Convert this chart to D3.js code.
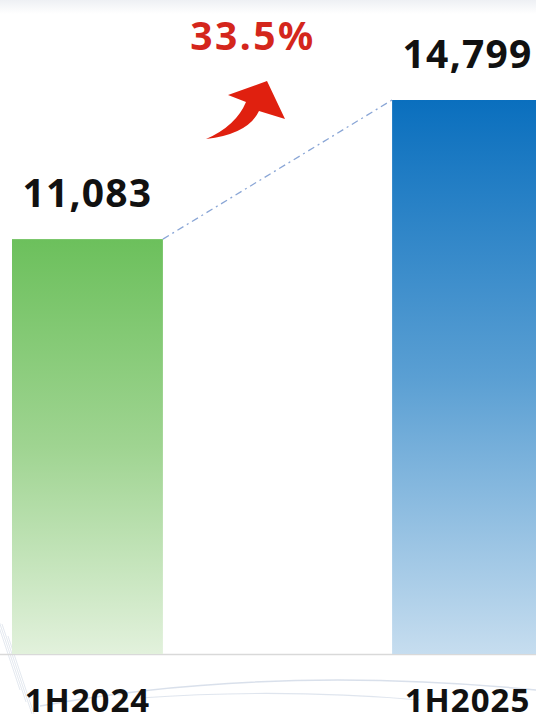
<!DOCTYPE html>
<html>
<head>
<meta charset="utf-8">
<script src="https://cdn.jsdelivr.net/npm/d3@7"></script>
<style>
  html, body { margin: 0; padding: 0; background: #fff; overflow: hidden; }
  svg { display: block; font-family: "Noto Sans", "Open Sans", sans-serif; }
</style>
</head>
<body>
<div id="chart"></div>
<script>
// data
const categories = ['1H2024', '1H2025'];
const values = [11083, 14799];
const growthLabel = '33.5%';

const W = 536;
const H = 714;
const baseY = 654;

const svg = d3.select('#chart').append('svg')
  .attr('width', W)
  .attr('height', H);

const defs = svg.append('defs');

const gradGreen = defs.append('linearGradient')
  .attr('id', 'g-green').attr('x1', 0).attr('y1', 0).attr('x2', 0).attr('y2', 1);
gradGreen.append('stop').attr('offset', '0%').attr('stop-color', '#6cc05c');
gradGreen.append('stop').attr('offset', '50%').attr('stop-color', '#9fd491');
gradGreen.append('stop').attr('offset', '100%').attr('stop-color', '#e2f1dc');

const gradBlue = defs.append('linearGradient')
  .attr('id', 'g-blue').attr('x1', 0).attr('y1', 0).attr('x2', 0).attr('y2', 1);
gradBlue.append('stop').attr('offset', '0%').attr('stop-color', '#0a6fbe');
gradBlue.append('stop').attr('offset', '50%').attr('stop-color', '#5a9fd3');
gradBlue.append('stop').attr('offset', '100%').attr('stop-color', '#c6ddef');

const gradTop = defs.append('linearGradient')
  .attr('id', 'g-top').attr('x1', 0).attr('y1', 0).attr('x2', 0).attr('y2', 1);
gradTop.append('stop').attr('offset', '0%').attr('stop-color', '#eef0f4');
gradTop.append('stop').attr('offset', '100%').attr('stop-color', '#ffffff');

// faint background decoration
svg.append('rect').attr('x', 0).attr('y', 0).attr('width', W).attr('height', 14)
  .attr('fill', 'url(#g-top)');

const deco = svg.append('g').attr('fill', 'none').attr('stroke', '#c9d3e2');
deco.append('path').attr('d', 'M40,706 Q270,664 536,690').attr('stroke-width', 1.5).attr('opacity', 0.7);
deco.append('path').attr('d', 'M140,698 Q280,688 420,700').attr('stroke-width', 1.2).attr('opacity', 0.6);
[0, 6, 12, 18].forEach((o) => {
  deco.append('line')
    .attr('x1', -10 + o).attr('y1', 600 + o * 2)
    .attr('x2', 20 + o).attr('y2', 690 + o * 2)
    .attr('opacity', 0.5);
});

const x = d3.scaleBand()
  .domain(categories)
  .range([12, 543])
  .paddingInner(0.603)
  .paddingOuter(0);

const y = d3.scaleLinear()
  .domain([0, d3.max(values)])
  .range([baseY, 100]);

const data = categories.map((c, i) => ({ cat: c, value: values[i] }));
const fills = ['url(#g-green)', 'url(#g-blue)'];

// baseline
svg.append('line')
  .attr('x1', 0).attr('x2', W)
  .attr('y1', baseY + 0.5).attr('y2', baseY + 0.5)
  .attr('stroke', '#d9d9d9').attr('stroke-width', 1.5);

svg.append('g').selectAll('rect')
  .data(data)
  .join('rect')
  .attr('x', (d) => x(d.cat))
  .attr('y', (d) => y(d.value))
  .attr('width', x.bandwidth())
  .attr('height', (d) => baseY - y(d.value))
  .attr('fill', (d, i) => fills[i]);

// connector between bar tops
svg.append('line')
  .attr('x1', x(categories[0]) + x.bandwidth())
  .attr('y1', y(values[0]))
  .attr('x2', x(categories[1]))
  .attr('y2', y(values[1]))
  .attr('stroke', '#8aa6d6')
  .attr('stroke-width', 1.3)
  .attr('stroke-dasharray', '7 4 2 4');

// value labels
svg.append('g').selectAll('text')
  .data(data)
  .join('text')
  .attr('x', (d) => x(d.cat) + x.bandwidth() / 2)
  .attr('y', (d) => y(d.value) - 32)
  .attr('text-anchor', 'middle')
  .attr('font-size', 39)
  .attr('font-weight', 700)
  .attr('letter-spacing', 1.2)
  .attr('fill', '#111')
  .text((d) => d3.format(',')(d.value));

// category labels
svg.append('g').selectAll('text')
  .data(data)
  .join('text')
  .attr('x', (d) => x(d.cat) + x.bandwidth() / 2)
  .attr('y', 712)
  .attr('text-anchor', 'middle')
  .attr('font-size', 33)
  .attr('font-weight', 700)
  .attr('letter-spacing', 1)
  .attr('fill', '#111')
  .text((d) => d.cat);

// growth annotation
svg.append('text')
  .attr('x', 253)
  .attr('y', 50)
  .attr('text-anchor', 'middle')
  .attr('font-size', 39)
  .attr('font-weight', 700)
  .attr('letter-spacing', 2.5)
  .attr('fill', '#d4261c')
  .text(growthLabel);

svg.append('path')
  .attr('d', 'M206,139 Q248,134 259,111 L285,119 L267,81 L228,95 L246,102 Q236,126 206,139 Z')
  .attr('fill', '#e0200f');
</script>
</body>
</html>
